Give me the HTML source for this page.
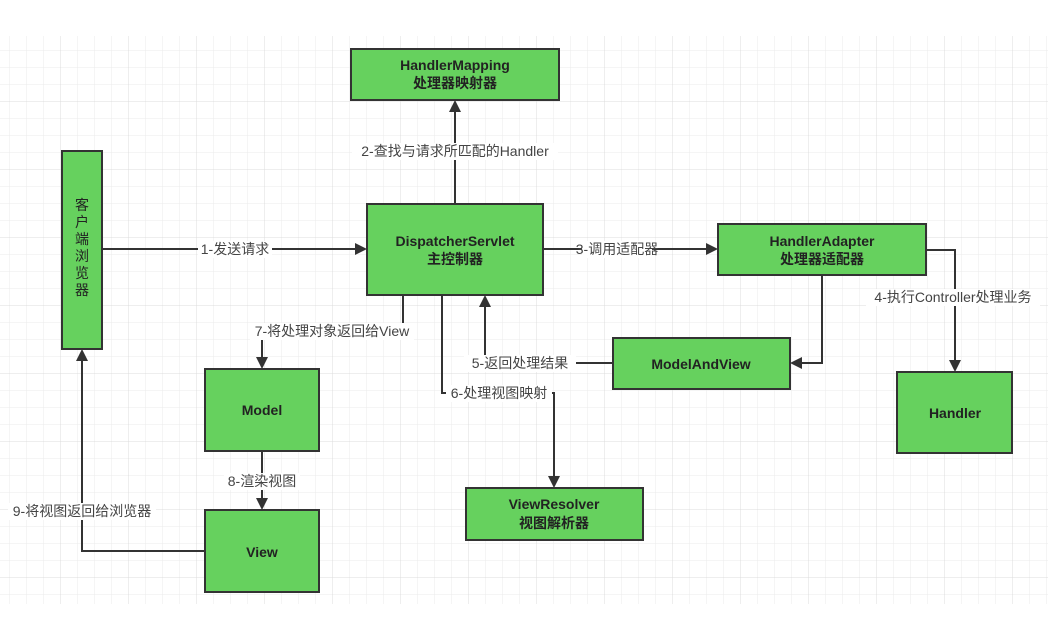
<!DOCTYPE html>
<html><head><meta charset="utf-8"><style>
html,body{margin:0;padding:0;background:#fff;width:1064px;height:626px;overflow:hidden}
svg{display:block}
.b{fill:#66d15e;stroke:#333;stroke-width:2}
.t{font-family:"Liberation Sans","Noto Sans CJK SC",sans-serif;font-size:14px;font-weight:bold;fill:#222;text-anchor:middle}
.l{font-family:"Liberation Sans","Noto Sans CJK SC",sans-serif;font-size:14px;fill:#444;text-anchor:middle}
.c{stroke:#333;stroke-width:2;fill:none}
.a{fill:#333}
</style></head><body>
<svg width="1064" height="626" viewBox="0 0 1064 626">
<defs>
<pattern id="mi" x="9" y="16" width="17" height="17" patternUnits="userSpaceOnUse"><path d="M0 0H17M0 0V17" stroke="#ebebeb" stroke-width="1" fill="none"/></pattern>
<pattern id="ma" x="60" y="33" width="68" height="68" patternUnits="userSpaceOnUse"><path d="M0 0H68M0 0V68" stroke="#dcdcdc" stroke-width="1" fill="none"/></pattern>
</defs>
<rect x="0" y="36" width="1048" height="568" fill="url(#mi)"/>
<rect x="0" y="36" width="1048" height="568" fill="url(#ma)"/>

<path class="c" d="M102 249H357"/><path class="a" d="M367 249l-12-6v12z"/>
<path class="c" d="M455 204V110"/><path class="a" d="M455 100l-6 12h12z"/>
<path class="c" d="M543 249H708"/><path class="a" d="M718 249l-12-6v12z"/>
<path class="c" d="M926 250H955V362"/><path class="a" d="M955 372l-6-12h12z"/>
<path class="c" d="M822 275V363H800"/><path class="a" d="M790 363l12-6v12z"/>
<path class="c" d="M613 363H485V305"/><path class="a" d="M485 295l-6 12h12z"/>
<path class="c" d="M442 295V393H554V478"/><path class="a" d="M554 488l-6-12h12z"/>
<path class="c" d="M403 295V331H262V359"/><path class="a" d="M262 369l-6-12h12z"/>
<path class="c" d="M262 451V500"/><path class="a" d="M262 510l-6-12h12z"/>
<path class="c" d="M204 551H82V359"/><path class="a" d="M82 349l-6 12h12z"/>

<rect x="198" y="241" width="74" height="17" fill="#fff"/><text class="l" x="235" y="254">1-发送请求</text>
<rect x="352" y="143" width="206" height="17" fill="#fff"/><text class="l" x="455" y="156">2-查找与请求所匹配的Handler</text>
<rect x="582" y="241" width="70" height="17" fill="#fff"/><text class="l" x="617" y="254">3-调用适配器</text>
<rect x="866" y="289" width="174" height="17" fill="#fff"/><text class="l" x="953" y="302">4-执行Controller处理业务</text>
<rect x="464" y="355" width="112" height="17" fill="#fff"/><text class="l" x="520" y="368">5-返回处理结果</text>
<rect x="446" y="385" width="106" height="17" fill="#fff"/><text class="l" x="499" y="398">6-处理视图映射</text>
<rect x="250" y="323" width="164" height="17" fill="#fff"/><text class="l" x="332" y="336">7-将处理对象返回给View</text>
<rect x="224" y="473" width="76" height="17" fill="#fff"/><text class="l" x="262" y="486">8-渲染视图</text>
<rect x="8" y="503" width="148" height="17" fill="#fff"/><text class="l" x="82" y="516">9-将视图返回给浏览器</text>

<rect class="b" x="351" y="49" width="208" height="51"/>
<text class="t" x="455" y="70">HandlerMapping</text><text class="t" x="455" y="88">处理器映射器</text>
<rect class="b" x="62" y="151" width="40" height="198"/>
<text class="t" style="font-weight:normal" x="82" y="210">客</text>
<text class="t" style="font-weight:normal" x="82" y="227">户</text>
<text class="t" style="font-weight:normal" x="82" y="244">端</text>
<text class="t" style="font-weight:normal" x="82" y="261">浏</text>
<text class="t" style="font-weight:normal" x="82" y="278">览</text>
<text class="t" style="font-weight:normal" x="82" y="295">器</text>
<rect class="b" x="367" y="204" width="176" height="91"/>
<text class="t" x="455" y="246">DispatcherServlet</text><text class="t" x="455" y="264">主控制器</text>
<rect class="b" x="718" y="224" width="208" height="51"/>
<text class="t" x="822" y="246">HandlerAdapter</text><text class="t" x="822" y="264">处理器适配器</text>
<rect class="b" x="613" y="338" width="177" height="51"/>
<text class="t" x="701" y="369">ModelAndView</text>
<rect class="b" x="897" y="372" width="115" height="81"/>
<text class="t" x="955" y="418">Handler</text>
<rect class="b" x="205" y="369" width="114" height="82"/>
<text class="t" x="262" y="415">Model</text>
<rect class="b" x="205" y="510" width="114" height="82"/>
<text class="t" x="262" y="557">View</text>
<rect class="b" x="466" y="488" width="177" height="52"/>
<text class="t" x="554" y="509">ViewResolver</text><text class="t" x="554" y="528">视图解析器</text>
</svg>
</body></html>
